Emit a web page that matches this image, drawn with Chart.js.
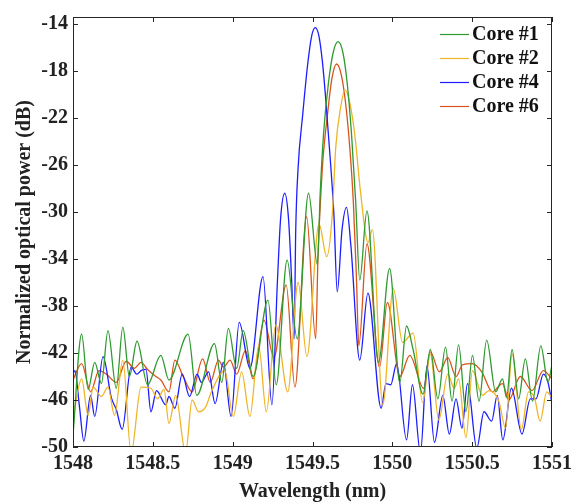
<!DOCTYPE html>
<html>
<head>
<meta charset="utf-8">
<script src="https://cdn.jsdelivr.net/npm/chart.js@4"></script>
<style>
  html, body { margin: 0; padding: 0; background: #fff; }
  #wrap { width: 577px; height: 504px; }
</style>
</head>
<body>
<div id="wrap"><canvas id="spectrumChart" width="577" height="504"></canvas></div>
<script>
// Spectrum data (wavelength in nm, power in dB)
const seriesNames = ["Core #1", "Core #2", "Core #4", "Core #6"];
const seriesColors = ["#2f9a2f", "#f0b429", "#1d1dff", "#d9541c"];

const wlCore1 = [
  1548.000, 1548.054, 1548.095, 1548.136, 1548.178, 1548.219, 1548.271, 1548.312,
  1548.353, 1548.401, 1548.467, 1548.550, 1548.601, 1548.721, 1548.775, 1548.886,
  1548.932, 1548.973, 1549.025, 1549.066, 1549.128, 1549.221, 1549.273, 1549.341,
  1549.404, 1549.475, 1549.531, 1549.548, 1549.570, 1549.600, 1549.630, 1549.660,
  1549.690, 1549.717, 1549.745, 1549.770, 1549.796, 1549.841, 1549.913, 1549.983,
  1550.047, 1550.089, 1550.130, 1550.192, 1550.238, 1550.285, 1550.333, 1550.374,
  1550.415, 1550.461, 1550.502, 1550.543, 1550.591, 1550.647, 1550.690, 1550.715,
  1550.750, 1550.791, 1550.833, 1550.878, 1550.930, 1550.975, 1551.000
];
const pwCore1 = [
  -49.0, -40.4, -45.1, -42.8, -44.6, -40.1, -45.0, -39.8,
  -44.0, -41.0, -44.7, -42.2, -44.3, -40.4, -45.6, -41.2,
  -44.5, -39.9, -43.3, -40.1, -44.0, -37.5, -44.7, -34.1,
  -40.8, -28.4, -34.5, -28.5, -23.2, -19.0, -16.4, -15.5,
  -16.4, -19.0, -23.5, -29.0, -35.8, -29.9, -42.8, -34.8,
  -44.5, -39.7, -41.7, -45.5, -41.7, -45.9, -41.5, -46.1,
  -41.3, -47.0, -42.2, -46.1, -40.9, -45.3, -44.2, -45.8,
  -41.7, -45.9, -42.5, -46.1, -41.4, -44.5, -43.0
];

const wlCore2 = [
  1548.000, 1548.054, 1548.095, 1548.126, 1548.178, 1548.219, 1548.260, 1548.312,
  1548.364, 1548.426, 1548.488, 1548.529, 1548.570, 1548.601, 1548.643, 1548.705,
  1548.746, 1548.787, 1548.830, 1548.870, 1548.950, 1549.004, 1549.056, 1549.108,
  1549.163, 1549.211, 1549.270, 1549.345, 1549.410, 1549.465, 1549.541, 1549.589,
  1549.624, 1549.645, 1549.675, 1549.704, 1549.735, 1549.768, 1549.800, 1549.848,
  1549.875, 1549.940, 1550.006, 1550.064, 1550.130, 1550.190, 1550.238, 1550.291,
  1550.347, 1550.388, 1550.415, 1550.461, 1550.502, 1550.564, 1550.605, 1550.667,
  1550.709, 1550.750, 1550.808, 1550.853, 1550.890, 1550.926, 1550.967, 1551.000
];
const pwCore2 = [
  -47.5, -44.2, -47.3, -44.9, -45.7, -44.9, -47.3, -42.6,
  -50.5, -44.9, -45.0, -45.9, -45.1, -48.0, -45.6, -50.5,
  -46.0, -47.0, -46.6, -45.2, -43.5, -47.4, -43.6, -47.4,
  -41.4, -47.0, -39.6, -45.3, -36.0, -42.3, -31.0, -33.8,
  -30.2, -24.6, -21.2, -19.6, -20.8, -23.8, -28.2, -32.6,
  -31.5, -46.4, -36.5, -41.1, -40.3, -46.2, -42.1, -47.7,
  -43.8, -45.0, -44.2, -49.2, -43.5, -45.6, -45.2, -46.1,
  -48.4, -42.1, -48.5, -45.3, -45.8, -47.8, -45.3, -45.8
];

const wlCore4 = [
  1548.000, 1548.012, 1548.040, 1548.068, 1548.110, 1548.136, 1548.188, 1548.240,
  1548.271, 1548.308, 1548.364, 1548.400, 1548.426, 1548.457, 1548.488, 1548.523,
  1548.581, 1548.601, 1548.638, 1548.684, 1548.730, 1548.777, 1548.804, 1548.849,
  1548.890, 1548.942, 1548.990, 1549.041, 1549.108, 1549.190, 1549.246, 1549.280,
  1549.300, 1549.326, 1549.350, 1549.370, 1549.385, 1549.395, 1549.410, 1549.438,
  1549.470, 1549.495, 1549.517, 1549.540, 1549.562, 1549.583, 1549.614, 1549.634,
  1549.655, 1549.685, 1549.713, 1549.740, 1549.796, 1549.847, 1549.930, 1549.960,
  1549.990, 1550.027, 1550.089, 1550.126, 1550.176, 1550.217, 1550.264, 1550.316,
  1550.357, 1550.399, 1550.436, 1550.471, 1550.529, 1550.574, 1550.622, 1550.657,
  1550.692, 1550.746, 1550.812, 1550.864, 1550.900, 1550.946, 1550.975, 1551.000
];
const pwCore4 = [
  -43.8, -43.5, -46.5, -49.5, -45.6, -47.4, -42.3, -45.8,
  -46.8, -48.5, -43.2, -43.8, -43.5, -43.4, -47.0, -45.2,
  -46.4, -45.7, -46.7, -43.8, -45.7, -43.8, -44.5, -43.6,
  -46.3, -42.8, -47.4, -39.4, -43.3, -35.5, -46.4, -36.0,
  -30.6, -28.4, -30.6, -36.0, -40.8, -31.5, -26.2, -21.8,
  -17.4, -15.0, -14.3, -15.0, -17.2, -20.4, -26.0, -30.2,
  -36.8, -31.5, -29.6, -32.8, -42.6, -36.9, -46.7, -44.6,
  -44.7, -42.9, -49.4, -44.7, -50.5, -43.1, -49.6, -45.6,
  -48.9, -45.9, -48.4, -44.6, -50.1, -47.0, -47.8, -45.6,
  -49.4, -45.0, -48.9, -45.9, -45.9, -43.8, -44.5, -46.3
];

const wlCore6 = [
  1548.000, 1548.054, 1548.110, 1548.163, 1548.209, 1548.271, 1548.333, 1548.384,
  1548.426, 1548.467, 1548.519, 1548.550, 1548.601, 1548.638, 1548.690, 1548.746,
  1548.812, 1548.860, 1548.911, 1548.942, 1548.984, 1549.025, 1549.080, 1549.128,
  1549.196, 1549.258, 1549.335, 1549.390, 1549.463, 1549.520, 1549.535, 1549.548,
  1549.565, 1549.593, 1549.622, 1549.651, 1549.680, 1549.707, 1549.734, 1549.756,
  1549.775, 1549.790, 1549.841, 1549.920, 1549.969, 1550.047, 1550.109, 1550.196,
  1550.238, 1550.295, 1550.347, 1550.399, 1550.440, 1550.500, 1550.560, 1550.626,
  1550.690, 1550.729, 1550.802, 1550.874, 1550.946, 1551.000
];
const pwCore6 = [
  -44.3, -42.9, -45.3, -43.5, -43.8, -44.5, -42.7, -43.3,
  -42.8, -43.4, -44.0, -44.3, -45.3, -42.6, -44.0, -45.3,
  -42.5, -44.5, -42.6, -43.2, -42.6, -43.8, -41.8, -44.2,
  -39.2, -42.4, -36.2, -44.9, -30.4, -40.8, -33.5, -29.6,
  -25.6, -21.8, -18.6, -17.4, -18.3, -20.7, -24.6, -29.2,
  -35.5, -41.4, -32.7, -43.2, -37.7, -44.0, -42.2, -45.0,
  -41.9, -43.6, -42.4, -44.0, -43.0, -42.9, -43.6, -45.3,
  -44.6, -46.0, -44.0, -45.2, -43.5, -44.2
];

const xTicks = [1548, 1548.5, 1549, 1549.5, 1550, 1550.5, 1551];
const yTicks = [-50, -46, -42, -38, -34, -30, -26, -22, -18, -14];

const wlSets = [wlCore1, wlCore2, wlCore4, wlCore6];
const pwSets = [pwCore1, pwCore2, pwCore4, pwCore6];

const serif = "'Liberation Serif', 'Times New Roman', serif";
const axisColor = "#262626";

// frame + inward ticks on all four sides
const frameTicks = {
  id: "frameTicks",
  afterDraw(chart) {
    const { ctx, chartArea: a, scales } = chart;
    ctx.save();
    ctx.strokeStyle = axisColor;
    ctx.lineWidth = 1;
    ctx.strokeRect(a.left + 0.5, a.top + 0.5, a.right - a.left - 1, a.bottom - a.top - 1);
    const len = 5;
    ctx.beginPath();
    xTicks.forEach(v => {
      const px = Math.round(scales.x.getPixelForValue(v)) + 0.5;
      ctx.moveTo(px, a.bottom); ctx.lineTo(px, a.bottom - len);
      ctx.moveTo(px, a.top); ctx.lineTo(px, a.top + len);
    });
    yTicks.forEach(v => {
      const py = Math.round(scales.y.getPixelForValue(v)) + 0.5;
      ctx.moveTo(a.left, py); ctx.lineTo(a.left + len, py);
      ctx.moveTo(a.right, py); ctx.lineTo(a.right - len, py);
    });
    ctx.stroke();
    ctx.restore();
  }
};

// legend inside the top right corner, no box
const cornerLegend = {
  id: "cornerLegend",
  afterDraw(chart) {
    const { ctx } = chart;
    ctx.save();
    ctx.font = "bold 20px " + serif;
    ctx.textBaseline = "middle";
    chart.data.datasets.forEach((ds, i) => {
      const y = 34 + i * 24;
      ctx.strokeStyle = ds.borderColor;
      ctx.lineWidth = 1.2;
      ctx.beginPath();
      ctx.moveTo(440, y + 0.5);
      ctx.lineTo(469, y + 0.5);
      ctx.stroke();
      ctx.fillStyle = "#111";
      ctx.fillText(ds.label, 472, y + 1);
    });
    ctx.restore();
  }
};

const ctx = document.getElementById("spectrumChart").getContext("2d");
new Chart(ctx, {
  type: "line",
  data: {
    datasets: seriesNames.map((name, i) => ({
      label: name,
      data: wlSets[i].map((w, k) => ({ x: w, y: pwSets[i][k] })),
      borderColor: seriesColors[i],
      borderWidth: 1.3,
      pointRadius: 0,
      fill: false,
      cubicInterpolationMode: "monotone"
    }))
  },
  options: {
    responsive: false,
    animation: false,
    devicePixelRatio: 1,
    layout: { padding: { top: 10, right: 20, left: 0, bottom: 0 } },
    plugins: { legend: { display: false }, tooltip: { enabled: false } },
    scales: {
      x: {
        type: "linear",
        min: 1548,
        max: 1551,
        afterBuildTicks: s => { s.ticks = xTicks.map(v => ({ value: v })); },
        afterFit: s => { s.height = 57; },
        grid: { display: false, drawTicks: false },
        border: { display: false },
        ticks: {
          color: "#222",
          font: { family: serif, size: 20, weight: "bold" },
          padding: 5,
          maxRotation: 0,
          callback: v => String(v)
        },
        title: {
          display: true,
          text: "Wavelength (nm)",
          color: "#222",
          font: { family: serif, size: 20, weight: "bold" },
          padding: { top: 0, bottom: 0 }
        }
      },
      y: {
        min: -50,
        max: -13.4,
        afterBuildTicks: s => { s.ticks = yTicks.map(v => ({ value: v })); },
        afterFit: s => { s.width = 73; },
        grid: { display: false, drawTicks: false },
        border: { display: false },
        ticks: {
          color: "#222",
          font: { family: serif, size: 20, weight: "bold" },
          padding: 5,
          callback: v => String(v)
        },
        title: {
          display: true,
          text: "Normalized optical power (dB)",
          color: "#222",
          font: { family: serif, size: 20, weight: "bold" },
          padding: { top: 13, bottom: 0 }
        }
      }
    }
  },
  plugins: [frameTicks, cornerLegend]
});
</script>
</body>
</html>
